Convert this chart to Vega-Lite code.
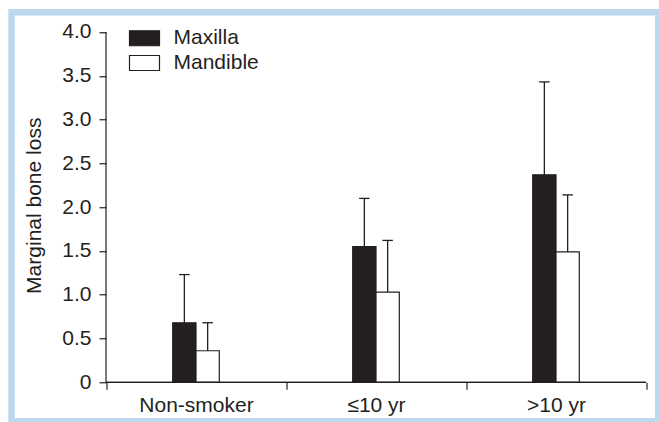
{
  "$schema": "https://vega.github.io/schema/vega-lite/v6.json",
  "autosize": {"type": "none"},
  "width": 646.75,
  "height": 409,
  "padding": {"left": 11.5, "top": 12.25, "right": 0.75, "bottom": 0.75},
  "background": "white",
  "config": {
    "view": {"stroke": "#bdd7ee", "strokeWidth": 6.5, "fill": "white"},
    "font": "Liberation Sans",
    "axis": {"labelFont": "Liberation Sans", "titleFont": "Liberation Sans", "labelColor": "#231f20", "titleColor": "#231f20", "tickColor": "#231f20", "grid": false},
    "legend": {"labelFont": "Liberation Sans"}
  },
  "data": {
    "values": [
      {"cat": "Non-smoker", "series": "Maxilla", "mean": 0.68, "upper": 1.23},
      {"cat": "Non-smoker", "series": "Mandible", "mean": 0.36, "upper": 0.68},
      {"cat": "≤10 yr", "series": "Maxilla", "mean": 1.55, "upper": 2.1},
      {"cat": "≤10 yr", "series": "Mandible", "mean": 1.03, "upper": 1.62},
      {"cat": ">10 yr", "series": "Maxilla", "mean": 2.37, "upper": 3.43},
      {"cat": ">10 yr", "series": "Mandible", "mean": 1.49, "upper": 2.14}
    ]
  },
  "encoding": {
    "x": {
      "field": "cat", "type": "nominal", "sort": null,
      "scale": {"domain": ["Non-smoker", "≤10 yr", ">10 yr"], "paddingInner": 0, "paddingOuter": 0.29653, "align": 0.88525},
      "axis": {"title": null, "domain": false, "tickBand": "extent", "tickSize": 7, "tickWidth": 1.2, "offset": -38.95, "labelFontSize": 21, "labelPadding": 5, "labelAngle": 0}
    },
    "y": {
      "type": "quantitative",
      "scale": {"domain": [-0.4448, 4.2255], "nice": false, "zero": false},
      "axis": {"title": "Marginal bone loss", "titleFontSize": 21, "titleFontWeight": "normal", "domain": false, "values": [0, 0.5, 1, 1.5, 2, 2.5, 3, 3.5, 4], "labelExpr": "datum.value == 0 ? '0' : format(datum.value, '.1f')", "tickSize": 7, "tickWidth": 1.2, "offset": -94.5, "labelFontSize": 21, "labelPadding": 8, "titleAngle": -90, "titleX": -72, "titleY": 193, "titleAlign": "center", "titleBaseline": "middle"}
    }
  },
  "layer": [
    {
      "transform": [{"filter": "datum.series == 'Maxilla'"}],
      "mark": {"type": "bar", "width": 23.3, "xOffset": -11.65, "stroke": "#231f20", "strokeWidth": 1.2},
      "encoding": {
        "y": {"field": "mean", "type": "quantitative"},
        "y2": {"datum": 0},
        "color": {"field": "series", "type": "nominal", "scale": {"domain": ["Maxilla", "Mandible"], "range": ["#231f20", "#ffffff"]},
          "legend": {"orient": "none", "legendX": 122.5, "legendY": 15.5, "title": null, "symbolType": "M-2,-1H2V1H-2Z", "symbolSize": 225, "symbolStrokeColor": "#231f20", "symbolStrokeWidth": 1.2, "symbolOpacity": 1, "labelFontSize": 21, "labelColor": "#231f20", "labelOffset": 18.5, "rowPadding": 2.75, "padding": 0}}
      }
    },
    {
      "transform": [{"filter": "datum.series == 'Mandible'"}],
      "mark": {"type": "bar", "width": 23.3, "xOffset": 11.65, "stroke": "#231f20", "strokeWidth": 1.2},
      "encoding": {
        "y": {"field": "mean", "type": "quantitative"},
        "y2": {"datum": 0},
        "color": {"field": "series", "type": "nominal"}
      }
    },
    {
      "transform": [{"filter": "datum.series == 'Maxilla'"}],
      "mark": {"type": "rule", "xOffset": -11.65, "color": "#231f20", "strokeWidth": 1.3},
      "encoding": {"y": {"field": "mean", "type": "quantitative"}, "y2": {"field": "upper"}}
    },
    {
      "transform": [{"filter": "datum.series == 'Mandible'"}],
      "mark": {"type": "rule", "xOffset": 11.65, "color": "#231f20", "strokeWidth": 1.3},
      "encoding": {"y": {"field": "mean", "type": "quantitative"}, "y2": {"field": "upper"}}
    },
    {
      "transform": [{"filter": "datum.series == 'Maxilla'"}],
      "mark": {"type": "tick", "orient": "horizontal", "xOffset": -11.65, "color": "#231f20", "size": 10.5, "thickness": 1.3, "opacity": 1},
      "encoding": {"y": {"field": "upper", "type": "quantitative"}}
    },
    {
      "transform": [{"filter": "datum.series == 'Mandible'"}],
      "mark": {"type": "tick", "orient": "horizontal", "xOffset": 11.65, "color": "#231f20", "size": 10.5, "thickness": 1.3, "opacity": 1},
      "encoding": {"y": {"field": "upper", "type": "quantitative"}}
    },
    {
      "mark": {"type": "bar", "width": {"band": 1}, "fill": null, "fillOpacity": 0, "stroke": "#231f20", "strokeWidth": 1.2},
      "encoding": {"y": {"datum": 0, "type": "quantitative"}, "y2": {"datum": 0}}
    },
    {
      "data": {"values": [{}]},
      "mark": {"type": "rule", "color": "#231f20", "strokeWidth": 1.2},
      "encoding": {"x": {"datum": "Non-smoker", "type": "nominal", "bandPosition": 0}, "y": {"datum": 0, "type": "quantitative"}, "y2": {"datum": 4}}
    }
  ]
}
